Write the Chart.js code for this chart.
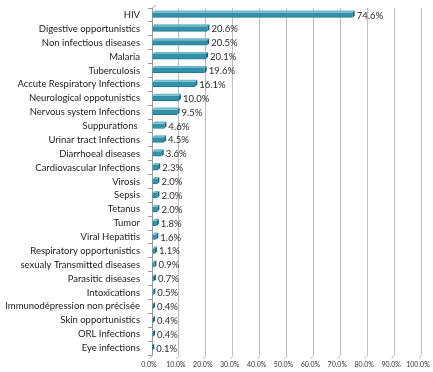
<!DOCTYPE html>
<html>
<head>
<meta charset="utf-8">
<script src="https://cdn.jsdelivr.net/npm/chart.js@4/dist/chart.umd.min.js"></script>
<style>
html,body{margin:0;padding:0;background:#fff;}
#wrap{width:433px;height:372px;position:relative;}
</style>
</head>
<body>
<div id="wrap"><canvas id="c" width="433" height="372"></canvas></div>
<script>
const categories = [
  "HIV","Digestive opportunistics","Non infectious diseases","Malaria","Tuberculosis",
  "Accute Respiratory Infections","Neurological oppotunistics","Nervous system Infections",
  "Suppurations ","Urinar tract Infections","Diarrhoeal diseases","Cardiovascular Infections",
  "Virosis","Sepsis","Tetanus","Tumor","Viral Hepatitis","Respiratory opportunistics",
  "sexualy Transmitted diseases","Parasitic diseases","Intoxications",
  "Immunodépression non précisée","Skin opportunistics","ORL Infections","Eye infections"
];
const values = [74.6,20.6,20.5,20.1,19.6,16.1,10.0,9.5,4.6,4.5,3.6,2.3,2.0,2.0,2.0,1.8,1.6,1.1,0.9,0.7,0.5,0.4,0.4,0.4,0.1];
const xTicks = [0,10,20,30,40,50,60,70,80,90,100];

const FONT = "Lato, 'DejaVu Sans', sans-serif";
const DEPTH = 2;

const bar3d = {
  id: 'bar3d',
  afterDatasetsDraw(chart) {
    const ctx = chart.ctx;
    const meta = chart.getDatasetMeta(0);
    ctx.save();
    meta.data.forEach((el, i) => {
      const p = el.getProps(['x','y','base','height'], true);
      const top = p.y - p.height / 2, bot = p.y + p.height / 2;
      const x0 = p.base, x1 = p.x, d = DEPTH;
      ctx.fillStyle = '#6fb8cb';
      ctx.beginPath();
      ctx.moveTo(x0, top); ctx.lineTo(x1, top); ctx.lineTo(x1 + d, top - d); ctx.lineTo(x0 + d, top - d);
      ctx.closePath(); ctx.fill();
      ctx.fillStyle = '#1d6577';
      ctx.beginPath();
      ctx.moveTo(x1, top); ctx.lineTo(x1 + d, top - d); ctx.lineTo(x1 + d, bot - d); ctx.lineTo(x1, bot);
      ctx.closePath(); ctx.fill();
      ctx.fillStyle = '#2a2a2a';
      ctx.font = '9.5px ' + FONT;
      ctx.textAlign = 'left';
      ctx.textBaseline = 'middle';
      ctx.fillText(values[i].toFixed(1) + '%', x1 + d + 2, p.y + 0.5);
    });
    ctx.restore();
  }
};

const floor3d = {
  id: 'floor3d',
  beforeDatasetsDraw(chart) {
    const ctx = chart.ctx;
    const xs = chart.scales.x;
    const a = chart.chartArea;
    ctx.save();
    ctx.strokeStyle = '#bdbdbd';
    ctx.lineWidth = 1;
    xTicks.forEach(v => {
      const x = Math.round(xs.getPixelForValue(v)) + 0.5;
      ctx.beginPath();
      ctx.moveTo(x, a.bottom);
      ctx.lineTo(x - 3, a.bottom + 4);
      ctx.stroke();
    });
    ctx.strokeStyle = '#999';
    ctx.beginPath();
    ctx.moveTo(a.left + 0.5, a.top);
    ctx.lineTo(a.left + 3.5, a.top - 3);
    ctx.stroke();
    ctx.restore();
  }
};

new Chart(document.getElementById('c'), {
  type: 'bar',
  data: {
    labels: categories,
    datasets: [{
      data: values,
      backgroundColor: '#3290a9',
      borderColor: '#23788e',
      borderWidth: {top: 0, left: 0, right: 0, bottom: 1},
      borderSkipped: false,
      barThickness: 5
    }]
  },
  options: {
    indexAxis: 'y',
    responsive: false,
    animation: false,
    devicePixelRatio: 1,
    layout: { padding: { top: 8, right: 12, left: 0, bottom: 0 } },
    plugins: { legend: { display: false }, tooltip: { enabled: false } },
    scales: {
      x: {
        min: 0, max: 100,
        afterBuildTicks(s) { s.ticks = xTicks.map(v => ({ value: v })); },
        afterFit(s) { s.height = 17; s.paddingLeft = 0; s.paddingRight = 0; },
        grid: { color: '#bdbdbd', lineWidth: 1, drawTicks: false },
        border: { display: false },
        ticks: {
          padding: 6,
          labelOffset: -3,
          color: '#333',
          font: { family: FONT, size: 7 },
          maxRotation: 0,
          callback: v => v.toFixed(1) + '%'
        }
      },
      y: {
        afterFit(s) { s.width = 152; s.paddingTop = 0; s.paddingBottom = 0; },
        grid: { drawOnChartArea: false, drawTicks: true, tickLength: 4, color: '#999' },
        border: { display: true, color: '#999' },
        ticks: {
          padding: 8,
          color: '#1a1a1a',
          font: { family: FONT, size: 9.5 },
          autoSkip: false
        }
      }
    }
  },
  plugins: [floor3d, bar3d]
});
</script>
</body>
</html>
